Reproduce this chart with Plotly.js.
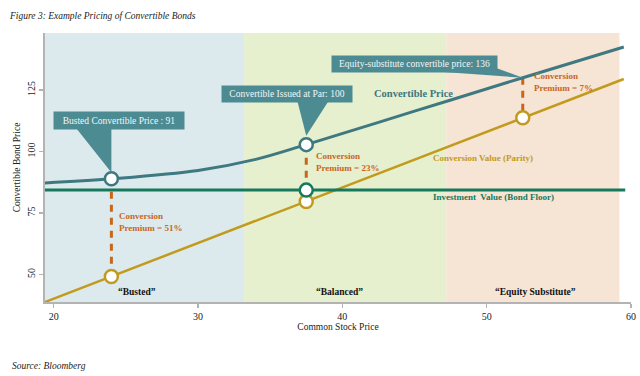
<!DOCTYPE html>
<html>
<head>
<meta charset="utf-8">
<script src="https://cdn.plot.ly/plotly-3.0.1.min.js"></script>
<style>html,body{margin:0;padding:0;background:#fff;}#chart{width:640px;height:376px;}</style>
</head>
<body>
<div id="chart"></div>
<script>
// ---- data ----
const stockPrice = [19.4, 24, 30, 34, 37.5, 45, 52.5, 59.5];
const convertiblePrice = [87.2, 88.9, 92.3, 96.8, 102.8, 116.4, 130, 142.5];

const parityStock = [19.4, 24, 37.5, 52.5, 59.5];
const parityValue = [38.8, 49.2, 79.7, 113.7, 129.5];

const floorStock = [19.4, 59.6];
const floorValue = [84.3, 84.3];

// key points: busted, issued at par, equity substitute
const keyStock = [24, 37.5, 52.5];
const keyConv = [88.9, 102.8, 130];
const keyParity = [49.2, 79.7, 113.7];
const keyFloor = 84.3;
const premiums = ["51%", "23%", "7%"];
const calloutTexts = ["Busted Convertible Price : 91", "Convertible Issued at Par: 100", "Equity-substitute convertible price: 136"];
const regionNames = ["\u201cBusted\u201d", "\u201cBalanced\u201d", "\u201cEquity Substitute\u201d"];
const regionBounds = [19.4, 33.2, 47.2, 59.2];
const xTicks = [20, 30, 40, 50, 60];
const yTicks = [50, 75, 100, 125];

// ---- styles ----
const FONT = "Liberation Serif, Times New Roman, serif";
const teal = "#3e7880", boxTeal = "#4d8b93", green = "#17795b", gold = "#c29b1d", orange = "#c8661c";
const regionColors = ["#dceaee", "#e6efce", "#f6e4d4"];

const traces = [];
// dashed premium lines
traces.push({x: [keyStock[0], keyStock[0]], y: [keyConv[0], keyParity[0]], mode: "lines", line: {color: orange, width: 3, dash: "7px,6px"}, hoverinfo: "skip"});
traces.push({x: [keyStock[1], keyStock[1]], y: [keyConv[1], keyFloor], mode: "lines", line: {color: orange, width: 3, dash: "7px,6px"}, hoverinfo: "skip"});
traces.push({x: [keyStock[2], keyStock[2]], y: [keyConv[2], keyParity[2]], mode: "lines", line: {color: orange, width: 3, dash: "7px,6px"}, hoverinfo: "skip"});
// lines
traces.push({x: parityStock, y: parityValue, mode: "lines", line: {color: gold, width: 2.5}, name: "Conversion Value"});
traces.push({x: stockPrice, y: convertiblePrice, mode: "lines", line: {color: teal, width: 3, shape: "spline"}, name: "Convertible Price"});
traces.push({x: floorStock, y: floorValue, mode: "lines", line: {color: green, width: 3}, name: "Investment Value"});
// markers
const mk = (c) => ({size: 13, color: "#ffffff", line: {color: c, width: 2.5}});
traces.push({x: keyStock, y: keyParity, mode: "markers", marker: mk(gold), hoverinfo: "skip"});
traces.push({x: keyStock.slice(0, 2), y: keyConv.slice(0, 2), mode: "markers", marker: mk(teal), hoverinfo: "skip"});
traces.push({x: [keyStock[1]], y: [keyFloor], mode: "markers", marker: mk(green), hoverinfo: "skip"});

const shapes = [];
for (let i = 0; i < 3; i++) {
  shapes.push({type: "rect", xref: "x", yref: "paper", x0: regionBounds[i], x1: regionBounds[i + 1], y0: 0, y1: 1, fillcolor: regionColors[i], line: {width: 0}, layer: "below"});
}
// callout pointers
shapes.push({type: "path", xref: "x", yref: "y", path: `M 21.55 109.6 L ${keyStock[0]} 109.6 L ${keyStock[0]} ${keyConv[0] + 2.6} Z`, fillcolor: boxTeal, line: {width: 0}});
shapes.push({type: "path", xref: "x", yref: "y", path: `M 36.9 120.1 L 39.0 120.1 L ${keyStock[1]} ${keyConv[1] + 3.6} Z`, fillcolor: boxTeal, line: {width: 0}});
shapes.push({type: "path", xref: "x", yref: "y", path: `M 46.8 132.4 L 50.7 133.9 L ${keyStock[2]} ${keyConv[2]} Z`, fillcolor: boxTeal, line: {width: 0}});

const ann = [];
const callPos = [[24.5, 112.8, 130, 17], [36.16, 123.2, 130, 16], [45.0, 135.4, 165, 16]];
for (let i = 0; i < 3; i++) {
  ann.push({x: callPos[i][0], y: callPos[i][1], xref: "x", yref: "y", text: calloutTexts[i], showarrow: false, bgcolor: boxTeal, borderpad: 0, width: callPos[i][2], height: callPos[i][3], font: {family: FONT, size: 9.5, color: "#f2f6f6"}});
}
const premPos = [[24.38, 71.3], [38.03, 95.7], [53.14, 128.2]];
for (let i = 0; i < 3; i++) {
  ann.push({x: premPos[i][0], y: premPos[i][1], xref: "x", yref: "y", xanchor: "left", align: "left", text: "<b>Conversion<br>Premium = " + premiums[i] + "</b>", showarrow: false, font: {family: FONT, size: 9, color: orange}});
}
const regX = [25.77, 39.83, 53.35];
for (let i = 0; i < 3; i++) {
  ann.push({x: regX[i], y: 42.9, xref: "x", yref: "y", text: "<b>" + regionNames[i] + "</b>", showarrow: false, font: {family: FONT, size: 9.5, color: "#111"}});
}
ann.push({x: 44.96, y: 123.8, xref: "x", yref: "y", text: "<b>Convertible Price</b>", showarrow: false, font: {family: FONT, size: 10.5, color: teal}});
ann.push({x: 49.74, y: 97.4, xref: "x", yref: "y", text: "<b>Conversion Value (Parity)</b>", showarrow: false, font: {family: FONT, size: 9, color: gold}});
ann.push({x: 50.5, y: 81.5, xref: "x", yref: "y", text: "<b>Investment  Value (Bond Floor)</b>", showarrow: false, font: {family: FONT, size: 9, color: green}});
ann.push({x: -35 / 586, y: -0.238, xref: "paper", yref: "paper", xanchor: "left", yanchor: "middle", text: "Source: Bloomberg", showarrow: false, font: {family: FONT, size: 9.5, color: "#222", style: "italic"}});

const axisCommon = {showgrid: false, zeroline: false, showline: true, linecolor: "#b3b3b3", linewidth: 2, ticks: "outside", ticklen: 4, tickcolor: "#b3b3b3", tickwidth: 1.5, tickfont: {family: FONT, size: 10, color: "#222"}};

const layout = {
  width: 640, height: 376,
  margin: {l: 45, r: 9, t: 33, b: 74},
  paper_bgcolor: "#ffffff", plot_bgcolor: "#ffffff",
  showlegend: false,
  title: {text: "Figure 3: Example Pricing of Convertible Bonds", xref: "container", yref: "container", x: 10 / 640, xanchor: "left", y: 1 - 16 / 376, yanchor: "middle", font: {family: FONT, size: 9.5, color: "#222", style: "italic"}},
  xaxis: Object.assign({}, axisCommon, {range: [19.4, 60], tickvals: xTicks, title: {text: "Common Stock Price", standoff: 2, font: {family: FONT, size: 9.5, color: "#222"}}}),
  yaxis: Object.assign({}, axisCommon, {range: [38.8, 148.2], tickvals: yTicks, tickangle: -90, title: {text: "Convertible Bond Price", standoff: 4, font: {family: FONT, size: 9.5, color: "#222"}}}),
  shapes: shapes,
  annotations: ann
};

Plotly.newPlot("chart", traces, layout, {staticPlot: true, displayModeBar: false});
</script>
</body>
</html>
